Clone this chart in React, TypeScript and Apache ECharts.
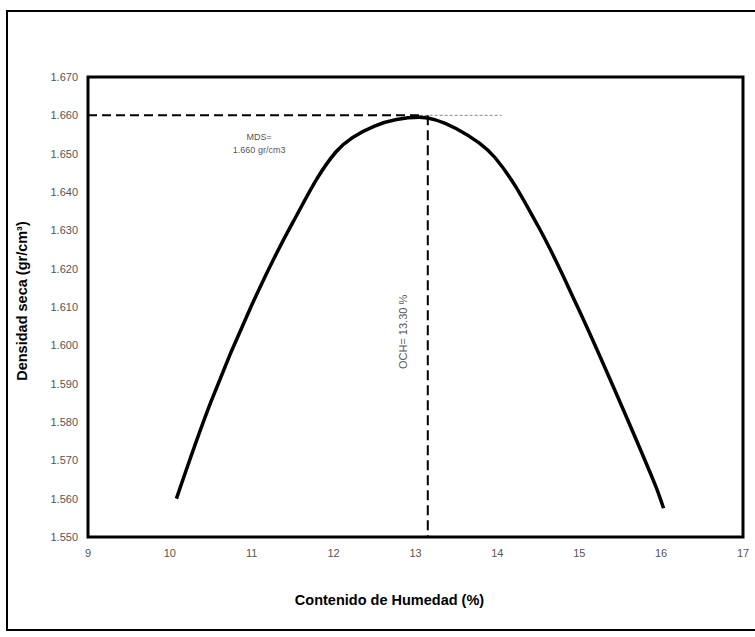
import React, { useEffect, useRef } from "react";
import * as echarts from "echarts";

// Compaction curve
const moisture = [10.08, 10.5, 11.0, 11.5, 12.03, 12.5, 13.05, 13.5, 13.97, 14.5, 14.98, 15.42, 15.92, 16.03];
const density = [1.56, 1.5852, 1.6105, 1.632, 1.6505, 1.6572, 1.6595, 1.6565, 1.649, 1.631, 1.61, 1.589, 1.564, 1.5575];

// Reference lines
const mdsValue = 1.66;
const ochValue = 13.15;
const peakMoisture = 13.05;
const hLineEnd = 14.05;

// Axis ranges
const xRange = [9, 17];
const yRange = [1.55, 1.67];

// Annotations
const mdsLabelPos = [11.09, 1.6527];
const mdsLabelText = "MDS=\n1.660 gr/cm3";
const ochLabelPos = [12.85, 1.6035];
const ochLabelText = "OCH= 13.30 %";

const xTitle = "Contenido de Humedad (%)";
const yTitle = "Densidad seca (gr/cm³)";

const FONT = "'Liberation Sans', Arial, sans-serif";

export default function App() {
  const ref = useRef<HTMLDivElement>(null);
  useEffect(() => {
    if (!ref.current) return;
    const chart = echarts.init(ref.current, null, { renderer: "svg" });
    chart.setOption({
      animation: false,
      backgroundColor: "#fff",
      textStyle: { fontFamily: FONT },
      graphic: [
        {
          type: "rect",
          shape: { x: 7, y: 11, width: 820, height: 619 },
          style: { fill: "none", stroke: "#000", lineWidth: 2 },
          silent: true,
        },
      ],
      grid: {
        left: 88,
        right: 12,
        top: 77,
        bottom: 100,
        show: true,
        borderColor: "#000",
        borderWidth: 3,
        backgroundColor: "transparent",
      },
      xAxis: {
        type: "value",
        min: xRange[0],
        max: xRange[1],
        interval: 1,
        axisLine: { show: false },
        axisTick: { show: false },
        splitLine: { show: false },
        axisLabel: { color: "#555", fontSize: 11, margin: 10, fontFamily: FONT },
        name: xTitle,
        nameLocation: "middle",
        nameGap: 55,
        nameTextStyle: {
          color: "#000",
          fontSize: 14.5,
          fontWeight: "bold",
          fontFamily: FONT,
          padding: [0, 52, 0, 0],
        },
      },
      yAxis: {
        type: "value",
        min: yRange[0],
        max: yRange[1],
        interval: 0.01,
        axisLine: { show: false },
        axisTick: { show: false },
        splitLine: { show: false },
        axisLabel: {
          color: "#555",
          fontSize: 11,
          margin: 10,
          fontFamily: FONT,
          formatter: (v: number) => v.toFixed(3),
        },
        name: yTitle,
        nameLocation: "middle",
        nameGap: 59,
        nameTextStyle: {
          color: "#000",
          fontSize: 14.5,
          fontWeight: "bold",
          fontFamily: FONT,
          padding: [0, 0, 0, 12],
        },
      },
      series: [
        {
          type: "line",
          data: moisture.map((m, i) => [m, density[i]]),
          smooth: 0.35,
          showSymbol: false,
          lineStyle: { color: "#000", width: 3.5 },
          z: 5,
        },
        {
          type: "line",
          data: [
            [xRange[0], mdsValue],
            [peakMoisture, mdsValue],
          ],
          showSymbol: false,
          lineStyle: { color: "#000", width: 2, type: [9, 5] },
          z: 4,
        },
        {
          type: "line",
          data: [
            [peakMoisture, mdsValue],
            [hLineEnd, mdsValue],
          ],
          showSymbol: false,
          lineStyle: { color: "#888", width: 1, type: [3, 2] },
          z: 3,
        },
        {
          type: "line",
          data: [
            [ochValue, mdsValue],
            [ochValue, yRange[0]],
          ],
          showSymbol: false,
          lineStyle: { color: "#000", width: 2, type: [10, 5] },
          z: 4,
        },
        {
          type: "scatter",
          symbolSize: 0,
          data: [mdsLabelPos],
          label: {
            show: true,
            position: "inside",
            formatter: mdsLabelText,
            color: "#222",
            fontSize: 9,
            lineHeight: 13,
            align: "center",
            fontFamily: FONT,
          },
          z: 6,
        },
        {
          type: "scatter",
          symbolSize: 0,
          data: [ochLabelPos],
          label: {
            show: true,
            position: "inside",
            formatter: ochLabelText,
            color: "#222",
            fontSize: 11,
            rotate: 90,
            fontFamily: FONT,
          },
          z: 6,
        },
      ],
    });
    return () => chart.dispose();
  }, []);
  return (
    <div
      ref={ref}
      style={{ position: "fixed", left: 0, top: 0, width: 755, height: 637, background: "#fff" }}
    />
  );
}
